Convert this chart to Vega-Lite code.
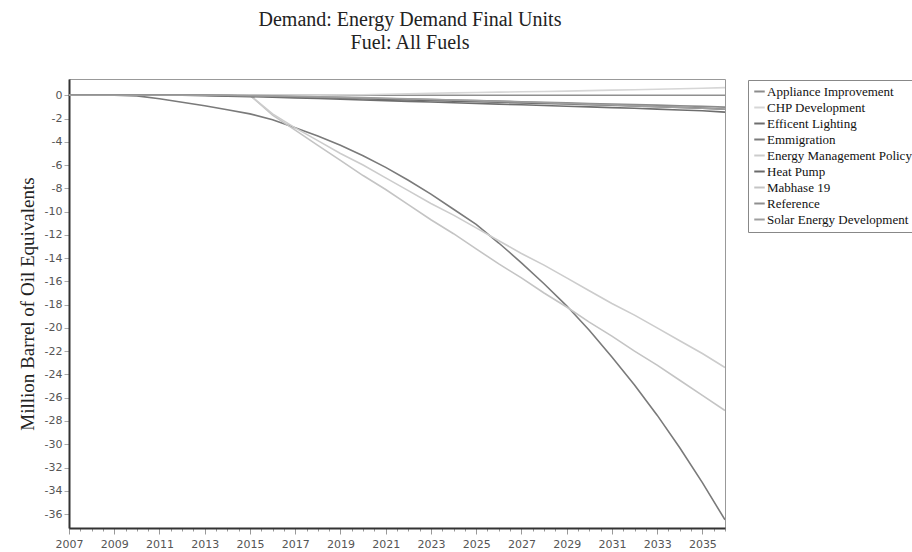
{
"$schema":"https://vega.github.io/schema/vega-lite/v6.json",
"autosize":{"type":"none"},
"width":656,"height":449,
"padding":{"left":69,"top":79,"right":187,"bottom":24},
"background":"white",
"title":{"text":["Demand: Energy Demand Final Units","Fuel: All Fuels"],"font":"Liberation Serif","fontSize":20,"fontWeight":"normal","color":"#222","anchor":"middle","dx":13,"offset":26,"lineHeight":23},
"config":{"view":{"stroke":"#999","strokeWidth":1}},
"data":{"values":[
{"scenario":"Reference","year":2007,"value":0},{"scenario":"Reference","year":2008,"value":0},{"scenario":"Reference","year":2009,"value":0},{"scenario":"Reference","year":2010,"value":0},{"scenario":"Reference","year":2011,"value":0},{"scenario":"Reference","year":2012,"value":0},{"scenario":"Reference","year":2013,"value":0},{"scenario":"Reference","year":2014,"value":0},{"scenario":"Reference","year":2015,"value":0},{"scenario":"Reference","year":2016,"value":0},{"scenario":"Reference","year":2017,"value":0},{"scenario":"Reference","year":2018,"value":0},{"scenario":"Reference","year":2019,"value":0},{"scenario":"Reference","year":2020,"value":0},{"scenario":"Reference","year":2021,"value":0},{"scenario":"Reference","year":2022,"value":0},{"scenario":"Reference","year":2023,"value":0},{"scenario":"Reference","year":2024,"value":0},{"scenario":"Reference","year":2025,"value":0},{"scenario":"Reference","year":2026,"value":0},{"scenario":"Reference","year":2027,"value":0},{"scenario":"Reference","year":2028,"value":0},{"scenario":"Reference","year":2029,"value":0},{"scenario":"Reference","year":2030,"value":0},{"scenario":"Reference","year":2031,"value":0},{"scenario":"Reference","year":2032,"value":0},{"scenario":"Reference","year":2033,"value":0},{"scenario":"Reference","year":2034,"value":0},{"scenario":"Reference","year":2035,"value":0},{"scenario":"Reference","year":2036,"value":0},
{"scenario":"Emmigration","year":2007,"value":0},{"scenario":"Emmigration","year":2008,"value":0},{"scenario":"Emmigration","year":2009,"value":0},{"scenario":"Emmigration","year":2010,"value":-0.05},{"scenario":"Emmigration","year":2011,"value":-0.3},{"scenario":"Emmigration","year":2012,"value":-0.6},{"scenario":"Emmigration","year":2013,"value":-0.9},{"scenario":"Emmigration","year":2014,"value":-1.25},{"scenario":"Emmigration","year":2015,"value":-1.6},{"scenario":"Emmigration","year":2016,"value":-2.1},{"scenario":"Emmigration","year":2017,"value":-2.8},{"scenario":"Emmigration","year":2018,"value":-3.5},{"scenario":"Emmigration","year":2019,"value":-4.3},{"scenario":"Emmigration","year":2020,"value":-5.2},{"scenario":"Emmigration","year":2021,"value":-6.2},{"scenario":"Emmigration","year":2022,"value":-7.3},{"scenario":"Emmigration","year":2023,"value":-8.5},{"scenario":"Emmigration","year":2024,"value":-9.8},{"scenario":"Emmigration","year":2025,"value":-11.1},{"scenario":"Emmigration","year":2026,"value":-12.7},{"scenario":"Emmigration","year":2027,"value":-14.4},{"scenario":"Emmigration","year":2028,"value":-16.2},{"scenario":"Emmigration","year":2029,"value":-18.1},{"scenario":"Emmigration","year":2030,"value":-20.2},{"scenario":"Emmigration","year":2031,"value":-22.5},{"scenario":"Emmigration","year":2032,"value":-24.9},{"scenario":"Emmigration","year":2033,"value":-27.5},{"scenario":"Emmigration","year":2034,"value":-30.3},{"scenario":"Emmigration","year":2035,"value":-33.3},{"scenario":"Emmigration","year":2036,"value":-36.5},
{"scenario":"Mabhase 19","year":2007,"value":0},{"scenario":"Mabhase 19","year":2008,"value":0},{"scenario":"Mabhase 19","year":2009,"value":0},{"scenario":"Mabhase 19","year":2010,"value":0},{"scenario":"Mabhase 19","year":2011,"value":0},{"scenario":"Mabhase 19","year":2012,"value":0},{"scenario":"Mabhase 19","year":2013,"value":0},{"scenario":"Mabhase 19","year":2014,"value":0},{"scenario":"Mabhase 19","year":2015,"value":0},{"scenario":"Mabhase 19","year":2016,"value":-1.7},{"scenario":"Mabhase 19","year":2017,"value":-3.0},{"scenario":"Mabhase 19","year":2018,"value":-4.3},{"scenario":"Mabhase 19","year":2019,"value":-5.6},{"scenario":"Mabhase 19","year":2020,"value":-6.9},{"scenario":"Mabhase 19","year":2021,"value":-8.1},{"scenario":"Mabhase 19","year":2022,"value":-9.4},{"scenario":"Mabhase 19","year":2023,"value":-10.7},{"scenario":"Mabhase 19","year":2024,"value":-11.9},{"scenario":"Mabhase 19","year":2025,"value":-13.2},{"scenario":"Mabhase 19","year":2026,"value":-14.5},{"scenario":"Mabhase 19","year":2027,"value":-15.7},{"scenario":"Mabhase 19","year":2028,"value":-17.0},{"scenario":"Mabhase 19","year":2029,"value":-18.2},{"scenario":"Mabhase 19","year":2030,"value":-19.5},{"scenario":"Mabhase 19","year":2031,"value":-20.7},{"scenario":"Mabhase 19","year":2032,"value":-22.0},{"scenario":"Mabhase 19","year":2033,"value":-23.2},{"scenario":"Mabhase 19","year":2034,"value":-24.5},{"scenario":"Mabhase 19","year":2035,"value":-25.8},{"scenario":"Mabhase 19","year":2036,"value":-27.1},
{"scenario":"Energy Management Policy","year":2007,"value":0},{"scenario":"Energy Management Policy","year":2008,"value":0},{"scenario":"Energy Management Policy","year":2009,"value":0},{"scenario":"Energy Management Policy","year":2010,"value":0},{"scenario":"Energy Management Policy","year":2011,"value":0},{"scenario":"Energy Management Policy","year":2012,"value":0},{"scenario":"Energy Management Policy","year":2013,"value":0},{"scenario":"Energy Management Policy","year":2014,"value":0},{"scenario":"Energy Management Policy","year":2015,"value":0},{"scenario":"Energy Management Policy","year":2016,"value":-1.6},{"scenario":"Energy Management Policy","year":2017,"value":-2.8},{"scenario":"Energy Management Policy","year":2018,"value":-3.9},{"scenario":"Energy Management Policy","year":2019,"value":-5.0},{"scenario":"Energy Management Policy","year":2020,"value":-6.0},{"scenario":"Energy Management Policy","year":2021,"value":-7.1},{"scenario":"Energy Management Policy","year":2022,"value":-8.2},{"scenario":"Energy Management Policy","year":2023,"value":-9.3},{"scenario":"Energy Management Policy","year":2024,"value":-10.3},{"scenario":"Energy Management Policy","year":2025,"value":-11.4},{"scenario":"Energy Management Policy","year":2026,"value":-12.5},{"scenario":"Energy Management Policy","year":2027,"value":-13.6},{"scenario":"Energy Management Policy","year":2028,"value":-14.6},{"scenario":"Energy Management Policy","year":2029,"value":-15.7},{"scenario":"Energy Management Policy","year":2030,"value":-16.8},{"scenario":"Energy Management Policy","year":2031,"value":-17.9},{"scenario":"Energy Management Policy","year":2032,"value":-18.9},{"scenario":"Energy Management Policy","year":2033,"value":-20.0},{"scenario":"Energy Management Policy","year":2034,"value":-21.1},{"scenario":"Energy Management Policy","year":2035,"value":-22.2},{"scenario":"Energy Management Policy","year":2036,"value":-23.4},
{"scenario":"CHP Development","year":2007,"value":0},{"scenario":"CHP Development","year":2008,"value":0},{"scenario":"CHP Development","year":2009,"value":0},{"scenario":"CHP Development","year":2010,"value":0},{"scenario":"CHP Development","year":2011,"value":0},{"scenario":"CHP Development","year":2012,"value":0},{"scenario":"CHP Development","year":2013,"value":0},{"scenario":"CHP Development","year":2014,"value":0},{"scenario":"CHP Development","year":2015,"value":0},{"scenario":"CHP Development","year":2016,"value":0},{"scenario":"CHP Development","year":2017,"value":0},{"scenario":"CHP Development","year":2018,"value":0},{"scenario":"CHP Development","year":2019,"value":0.02},{"scenario":"CHP Development","year":2020,"value":0.05},{"scenario":"CHP Development","year":2021,"value":0.09},{"scenario":"CHP Development","year":2022,"value":0.13},{"scenario":"CHP Development","year":2023,"value":0.17},{"scenario":"CHP Development","year":2024,"value":0.21},{"scenario":"CHP Development","year":2025,"value":0.24},{"scenario":"CHP Development","year":2026,"value":0.27},{"scenario":"CHP Development","year":2027,"value":0.3},{"scenario":"CHP Development","year":2028,"value":0.33},{"scenario":"CHP Development","year":2029,"value":0.36},{"scenario":"CHP Development","year":2030,"value":0.4},{"scenario":"CHP Development","year":2031,"value":0.44},{"scenario":"CHP Development","year":2032,"value":0.48},{"scenario":"CHP Development","year":2033,"value":0.52},{"scenario":"CHP Development","year":2034,"value":0.56},{"scenario":"CHP Development","year":2035,"value":0.61},{"scenario":"CHP Development","year":2036,"value":0.66},
{"scenario":"Efficent Lighting","year":2007,"value":0},{"scenario":"Efficent Lighting","year":2008,"value":0},{"scenario":"Efficent Lighting","year":2009,"value":0},{"scenario":"Efficent Lighting","year":2010,"value":0},{"scenario":"Efficent Lighting","year":2011,"value":0},{"scenario":"Efficent Lighting","year":2012,"value":0},{"scenario":"Efficent Lighting","year":2013,"value":-0.03},{"scenario":"Efficent Lighting","year":2014,"value":-0.07},{"scenario":"Efficent Lighting","year":2015,"value":-0.12},{"scenario":"Efficent Lighting","year":2016,"value":-0.17},{"scenario":"Efficent Lighting","year":2017,"value":-0.22},{"scenario":"Efficent Lighting","year":2018,"value":-0.28},{"scenario":"Efficent Lighting","year":2019,"value":-0.34},{"scenario":"Efficent Lighting","year":2020,"value":-0.4},{"scenario":"Efficent Lighting","year":2021,"value":-0.46},{"scenario":"Efficent Lighting","year":2022,"value":-0.52},{"scenario":"Efficent Lighting","year":2023,"value":-0.58},{"scenario":"Efficent Lighting","year":2024,"value":-0.64},{"scenario":"Efficent Lighting","year":2025,"value":-0.7},{"scenario":"Efficent Lighting","year":2026,"value":-0.76},{"scenario":"Efficent Lighting","year":2027,"value":-0.82},{"scenario":"Efficent Lighting","year":2028,"value":-0.88},{"scenario":"Efficent Lighting","year":2029,"value":-0.94},{"scenario":"Efficent Lighting","year":2030,"value":-1.0},{"scenario":"Efficent Lighting","year":2031,"value":-1.06},{"scenario":"Efficent Lighting","year":2032,"value":-1.12},{"scenario":"Efficent Lighting","year":2033,"value":-1.19},{"scenario":"Efficent Lighting","year":2034,"value":-1.26},{"scenario":"Efficent Lighting","year":2035,"value":-1.33},{"scenario":"Efficent Lighting","year":2036,"value":-1.45},
{"scenario":"Heat Pump","year":2007,"value":0},{"scenario":"Heat Pump","year":2008,"value":0},{"scenario":"Heat Pump","year":2009,"value":0},{"scenario":"Heat Pump","year":2010,"value":0},{"scenario":"Heat Pump","year":2011,"value":0},{"scenario":"Heat Pump","year":2012,"value":0},{"scenario":"Heat Pump","year":2013,"value":0},{"scenario":"Heat Pump","year":2014,"value":-0.03},{"scenario":"Heat Pump","year":2015,"value":-0.06},{"scenario":"Heat Pump","year":2016,"value":-0.1},{"scenario":"Heat Pump","year":2017,"value":-0.15},{"scenario":"Heat Pump","year":2018,"value":-0.2},{"scenario":"Heat Pump","year":2019,"value":-0.25},{"scenario":"Heat Pump","year":2020,"value":-0.3},{"scenario":"Heat Pump","year":2021,"value":-0.35},{"scenario":"Heat Pump","year":2022,"value":-0.4},{"scenario":"Heat Pump","year":2023,"value":-0.45},{"scenario":"Heat Pump","year":2024,"value":-0.5},{"scenario":"Heat Pump","year":2025,"value":-0.55},{"scenario":"Heat Pump","year":2026,"value":-0.6},{"scenario":"Heat Pump","year":2027,"value":-0.65},{"scenario":"Heat Pump","year":2028,"value":-0.7},{"scenario":"Heat Pump","year":2029,"value":-0.75},{"scenario":"Heat Pump","year":2030,"value":-0.8},{"scenario":"Heat Pump","year":2031,"value":-0.86},{"scenario":"Heat Pump","year":2032,"value":-0.92},{"scenario":"Heat Pump","year":2033,"value":-0.98},{"scenario":"Heat Pump","year":2034,"value":-1.04},{"scenario":"Heat Pump","year":2035,"value":-1.1},{"scenario":"Heat Pump","year":2036,"value":-1.2},
{"scenario":"Appliance Improvement","year":2007,"value":0},{"scenario":"Appliance Improvement","year":2008,"value":0},{"scenario":"Appliance Improvement","year":2009,"value":0},{"scenario":"Appliance Improvement","year":2010,"value":0},{"scenario":"Appliance Improvement","year":2011,"value":0},{"scenario":"Appliance Improvement","year":2012,"value":0},{"scenario":"Appliance Improvement","year":2013,"value":0},{"scenario":"Appliance Improvement","year":2014,"value":-0.02},{"scenario":"Appliance Improvement","year":2015,"value":-0.05},{"scenario":"Appliance Improvement","year":2016,"value":-0.08},{"scenario":"Appliance Improvement","year":2017,"value":-0.12},{"scenario":"Appliance Improvement","year":2018,"value":-0.16},{"scenario":"Appliance Improvement","year":2019,"value":-0.2},{"scenario":"Appliance Improvement","year":2020,"value":-0.24},{"scenario":"Appliance Improvement","year":2021,"value":-0.28},{"scenario":"Appliance Improvement","year":2022,"value":-0.32},{"scenario":"Appliance Improvement","year":2023,"value":-0.36},{"scenario":"Appliance Improvement","year":2024,"value":-0.4},{"scenario":"Appliance Improvement","year":2025,"value":-0.45},{"scenario":"Appliance Improvement","year":2026,"value":-0.5},{"scenario":"Appliance Improvement","year":2027,"value":-0.55},{"scenario":"Appliance Improvement","year":2028,"value":-0.6},{"scenario":"Appliance Improvement","year":2029,"value":-0.65},{"scenario":"Appliance Improvement","year":2030,"value":-0.7},{"scenario":"Appliance Improvement","year":2031,"value":-0.75},{"scenario":"Appliance Improvement","year":2032,"value":-0.8},{"scenario":"Appliance Improvement","year":2033,"value":-0.85},{"scenario":"Appliance Improvement","year":2034,"value":-0.9},{"scenario":"Appliance Improvement","year":2035,"value":-0.95},{"scenario":"Appliance Improvement","year":2036,"value":-1.02},
{"scenario":"Solar Energy Development","year":2007,"value":0},{"scenario":"Solar Energy Development","year":2008,"value":0},{"scenario":"Solar Energy Development","year":2009,"value":0},{"scenario":"Solar Energy Development","year":2010,"value":0},{"scenario":"Solar Energy Development","year":2011,"value":0},{"scenario":"Solar Energy Development","year":2012,"value":0},{"scenario":"Solar Energy Development","year":2013,"value":0},{"scenario":"Solar Energy Development","year":2014,"value":0},{"scenario":"Solar Energy Development","year":2015,"value":-0.02},{"scenario":"Solar Energy Development","year":2016,"value":-0.05},{"scenario":"Solar Energy Development","year":2017,"value":-0.08},{"scenario":"Solar Energy Development","year":2018,"value":-0.12},{"scenario":"Solar Energy Development","year":2019,"value":-0.16},{"scenario":"Solar Energy Development","year":2020,"value":-0.2},{"scenario":"Solar Energy Development","year":2021,"value":-0.25},{"scenario":"Solar Energy Development","year":2022,"value":-0.3},{"scenario":"Solar Energy Development","year":2023,"value":-0.35},{"scenario":"Solar Energy Development","year":2024,"value":-0.4},{"scenario":"Solar Energy Development","year":2025,"value":-0.46},{"scenario":"Solar Energy Development","year":2026,"value":-0.52},{"scenario":"Solar Energy Development","year":2027,"value":-0.58},{"scenario":"Solar Energy Development","year":2028,"value":-0.64},{"scenario":"Solar Energy Development","year":2029,"value":-0.7},{"scenario":"Solar Energy Development","year":2030,"value":-0.77},{"scenario":"Solar Energy Development","year":2031,"value":-0.84},{"scenario":"Solar Energy Development","year":2032,"value":-0.91},{"scenario":"Solar Energy Development","year":2033,"value":-0.98},{"scenario":"Solar Energy Development","year":2034,"value":-1.05},{"scenario":"Solar Energy Development","year":2035,"value":-1.12},{"scenario":"Solar Energy Development","year":2036,"value":-1.2}
]},
"mark":{"type":"line","strokeWidth":1.6,"clip":true},
"encoding":{
"x":{"field":"year","type":"quantitative","scale":{"domain":[2007,2036],"nice":false,"zero":false},
"axis":{"title":null,"values":[2007,2007.5,2008,2008.5,2009,2009.5,2010,2010.5,2011,2011.5,2012,2012.5,2013,2013.5,2014,2014.5,2015,2015.5,2016,2016.5,2017,2017.5,2018,2018.5,2019,2019.5,2020,2020.5,2021,2021.5,2022,2022.5,2023,2023.5,2024,2024.5,2025,2025.5,2026,2026.5,2027,2027.5,2028,2028.5,2029,2029.5,2030,2030.5,2031,2031.5,2032,2032.5,2033,2033.5,2034,2034.5,2035,2035.5,2036],
"labelExpr":"(datum.value % 2 == 1) ? format(datum.value,'d') : ''","labelOverlap":false,"labelFlush":false,
"labelFont":"DejaVu Sans","labelFontSize":11,"labelColor":"#555","labelPadding":4,
"tickSize":{"condition":{"test":"datum.value % 2 == 1","value":6},"value":3},
"tickColor":"#999","domainColor":"#333","domainWidth":2,"grid":false}},
"y":{"field":"value","type":"quantitative","scale":{"domain":[-37.2,1.4],"nice":false,"zero":false},
"axis":{"title":"Million Barrel of Oil Equivalents","titleFont":"Liberation Serif","titleFontSize":19,"titleFontWeight":"normal","titleColor":"#222","titlePadding":7,
"values":[-36,-34,-32,-30,-28,-26,-24,-22,-20,-18,-16,-14,-12,-10,-8,-6,-4,-2,0],
"labelExpr":"datum.value < 0 ? '-' + abs(datum.value) : '0'",
"labelFont":"DejaVu Sans","labelFontSize":11,"labelColor":"#555","labelPadding":2,"tickSize":5,"tickColor":"#aaa","domainColor":"#333","domainWidth":2,"grid":false}},
"color":{"field":"scenario","type":"nominal",
"scale":{"domain":["Appliance Improvement","CHP Development","Efficent Lighting","Emmigration","Energy Management Policy","Heat Pump","Mabhase 19","Reference","Solar Energy Development"],
"range":["#8c8c8c","#d6d6d6","#6e6e6e","#7a7a7a","#cccccc","#6a6a6a","#c4c4c4","#8f8f8f","#9e9e9e"]},
"legend":{"orient":"none","legendX":679,"legendY":1,"title":null,"symbolType":"stroke","symbolSize":110,"symbolStrokeWidth":2,"labelFont":"Liberation Serif","labelFontSize":13,"labelColor":"#111","strokeColor":"#888","fillColor":"white","padding":5,"rowPadding":2,"labelLimit":300,"labelOffset":1}}
}
}
